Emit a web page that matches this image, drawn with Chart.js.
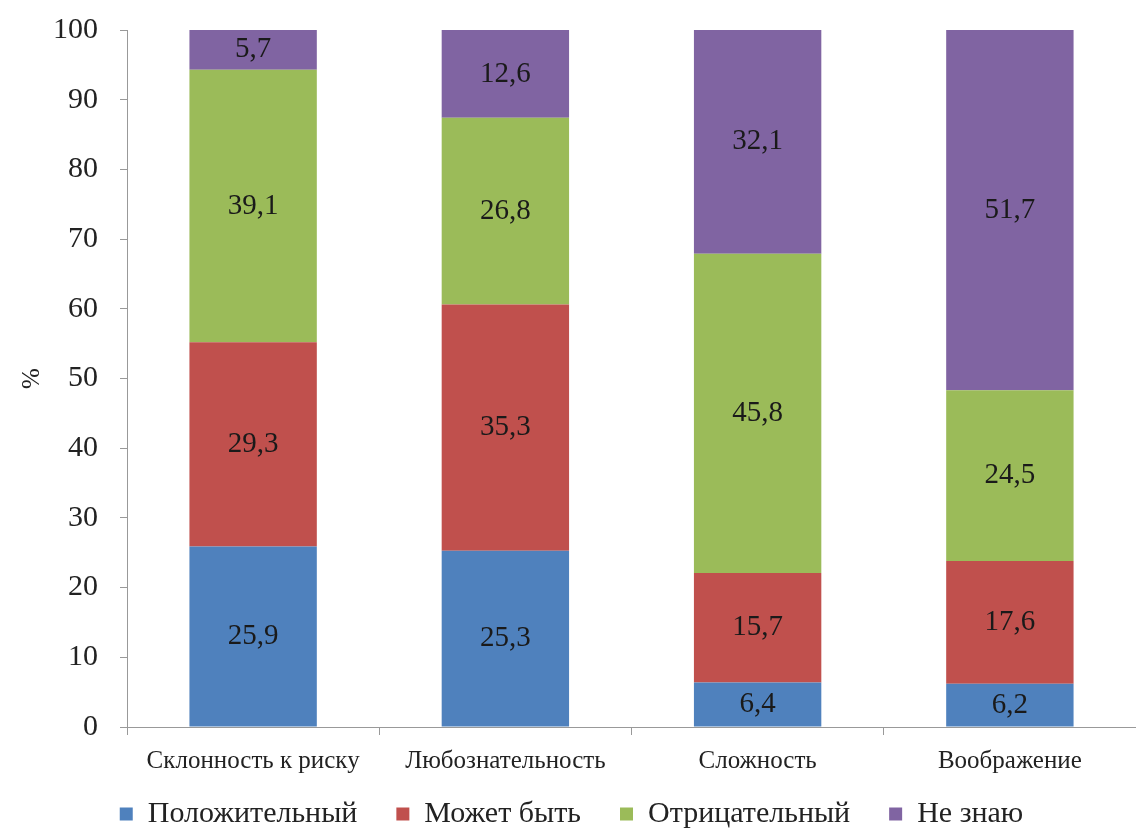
<!DOCTYPE html>
<html>
<head>
<meta charset="utf-8">
<title>Отношение к качествам</title>
<script src="https://cdn.jsdelivr.net/npm/chart.js"></script>
<style>
  html, body { margin: 0; padding: 0; background: #fff; }
  #wrap { width: 1136px; height: 832px; position: relative; }
</style>
</head>
<body>
<div id="wrap"><canvas id="myChart"></canvas></div>
<script>
// categories and series (percent)
const categories = ["Склонность к риску", "Любознательность", "Сложность", "Воображение"];
const positive = [25.9, 25.3, 6.4, 6.2];
const maybe = [29.3, 35.3, 15.7, 17.6];
const negative = [39.1, 26.8, 45.8, 24.5];
const dontKnow = [5.7, 12.6, 32.1, 51.7];
const yTicks = [0, 10, 20, 30, 40, 50, 60, 70, 80, 90, 100];

const serif = '"Liberation Serif", "Times New Roman", serif';
const axisColor = "#999";
const textColor = "#222";

// write each segment's value in the middle of its bar piece
const valueLabels = {
  id: "valueLabels",
  afterDatasetsDraw(chart) {
    const ctx = chart.ctx;
    ctx.save();
    ctx.font = "29px " + serif;
    ctx.fillStyle = "#1a1a1a";
    ctx.textAlign = "center";
    ctx.textBaseline = "middle";
    chart.data.datasets.forEach((ds, i) => {
      const meta = chart.getDatasetMeta(i);
      meta.data.forEach((bar, j) => {
        const text = ds.data[j].toFixed(1).replace(".", ",");
        ctx.fillText(text, bar.x, (bar.y + bar.base) / 2);
      });
    });
    ctx.restore();
  },
};

// the x axis box is kept short so the legend sits close; let its labels spill below it
const unclipX = {
  id: "unclipX",
  beforeDraw(chart) {
    chart.scales.x._computeLabelArea = () => undefined;
  },
};

const ctx = document.getElementById("myChart").getContext("2d");
new Chart(ctx, {
  type: "bar",
  data: {
    labels: categories,
    datasets: [
      { label: "Положительный", data: positive, backgroundColor: "#4F81BD" },
      { label: "Может быть", data: maybe, backgroundColor: "#C0504D" },
      { label: "Отрицательный", data: negative, backgroundColor: "#9BBB59" },
      { label: "Не знаю", data: dontKnow, backgroundColor: "#8064A2" },
    ],
  },
  plugins: [valueLabels, unclipX],
  options: {
    responsive: true,
    maintainAspectRatio: false,
    animation: false,
    layout: { padding: { top: 30, right: -7, left: 0, bottom: -7 } },
    datasets: {
      bar: { categoryPercentage: 1, barPercentage: 0.505 },
    },
    plugins: {
      tooltip: { enabled: false },
      legend: {
        position: "bottom",
        labels: {
          font: { family: serif, size: 30 },
          color: textColor,
          boxWidth: 13,
          boxHeight: 13,
          padding: 39,
        },
      },
    },
    scales: {
      x: {
        stacked: true,
        grid: { offset: true, drawOnChartArea: false, tickLength: 8, color: axisColor },
        border: { color: axisColor },
        ticks: {
          font: { family: serif, size: 25 },
          color: textColor,
          padding: 11,
          autoSkip: false,
          maxRotation: 0,
          minRotation: 0,
        },
        afterFit(scale) {
          scale.height = 33;
          scale.paddingLeft = 0;
          scale.paddingRight = 0;
        },
      },
      y: {
        stacked: true,
        min: 0,
        max: 100,
        afterBuildTicks(scale) { scale.ticks = yTicks.map((v) => ({ value: v })); },
        grid: { drawOnChartArea: false, tickLength: 7, color: axisColor },
        border: { color: axisColor },
        ticks: { font: { family: serif, size: 30 }, color: textColor, padding: 22 },
        title: {
          display: true,
          text: "%",
          font: { family: serif, size: 25 },
          color: textColor,
          padding: { top: 17, bottom: 0 },
        },
        afterFit(scale) {
          scale.width = 127;
          scale.paddingTop = 0;
          scale.paddingBottom = 0;
        },
      },
    },
  },
});
</script>
</body>
</html>
